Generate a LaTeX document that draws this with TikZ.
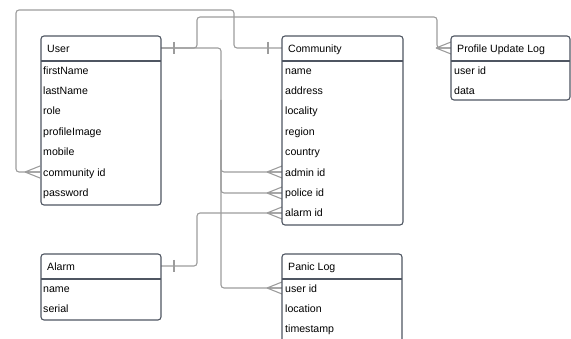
\documentclass[tikz,border=0pt]{standalone}
\usepackage{fontspec}
\setmainfont{Liberation Sans}
\usetikzlibrary{calc}
\definecolor{boxc}{HTML}{4F5662}
\definecolor{linec}{HTML}{9C9C9C}
\tikzset{
  ent/.style={draw=boxc, line width=1.1pt, rounded corners=3pt, fill=white},
  sep/.style={draw=boxc, line width=1.1pt},
  hdr/.style={anchor=west, inner sep=0pt, text height=7.8pt, text depth=2.4pt, yshift=-1pt, font=\fontsize{10.6}{12}\selectfont},
  row/.style={anchor=west, inner sep=0pt, text height=7.8pt, text depth=2.4pt, yshift=-1pt, font=\fontsize{10.6}{12}\selectfont},
  conn/.style={draw=linec, line width=1.1pt, rounded corners=3pt},
  endmark/.style={draw=linec, line width=1.1pt}
}
\newcommand{\crowfoot}[1]{\draw[endmark] ($#1+(-15,0)$) -- #1 ($#1+(-15,0)$) -- ($#1+(0,-6)$) ($#1+(-15,0)$) -- ($#1+(0,6)$);}
\newcommand{\onetick}[1]{\draw[endmark] ($#1+(0,-6)$) -- ($#1+(0,6)$);}
\begin{document}
\begin{tikzpicture}[x=1pt,y=-1pt]
\useasboundingbox (0,0) rectangle (571,339);
% connectors
\coordinate (uh) at (161,48);
\coordinate (ch) at (282,48);
\coordinate (ph) at (451,48);
\coordinate (ah) at (161,266);
\coordinate (ucid) at (40,172);
\coordinate (cadm) at (282,172);
\coordinate (cpol) at (282,193);
\coordinate (calm) at (282,213);
\coordinate (puid) at (282,288);
\draw[conn] (uh) -- (197,48) -- (197,17) -- (437,17) -- (437,48) -- (ph);
\draw[conn] (uh) -- (221,48) -- (221,288) -- (puid);
\draw[conn] (221,100) -- (221,172) -- (cadm);
\draw[conn] (221,150) -- (221,193) -- (cpol);
\draw[conn] (ch) -- (234,48) -- (234,10) -- (16,10) -- (16,172) -- (ucid);
\draw[conn] (ah) -- (197,266) -- (197,213) -- (calm);
\onetick{(174,48)}
\onetick{(268,48)}
\onetick{(174,266)}
\crowfoot{(ph)}
\crowfoot{(ucid)}
\crowfoot{(cadm)}
\crowfoot{(cpol)}
\crowfoot{(calm)}
\crowfoot{(puid)}
% User
\path[ent] (41,36) rectangle (161,205);
\draw[sep] (41,61) -- (161,61);
\node[hdr] (user) at (47,48.5) {User};
\node[row] (u1) at (43,71) {firstName};
\node[row] (u2) at (43,91) {lastName};
\node[row] (u3) at (43,111) {role};
\node[row] (u4) at (43,131.5) {profileImage};
\node[row] (u5) at (43,152) {mobile};
\node[row] (u6) at (43,172.5) {community id};
\node[row] (u7) at (43,193) {password};
% Community
\path[ent] (282,36) rectangle (403,225);
\draw[sep] (282,61) -- (403,61);
\node[hdr] (comm) at (288,48.5) {Community};
\node[row] (c1) at (285,71) {name};
\node[row] (c2) at (285,91) {address};
\node[row] (c3) at (285,111) {locality};
\node[row] (c4) at (285,131.5) {region};
\node[row] (c5) at (285,152) {country};
\node[row] (c6) at (285,172.5) {admin id};
\node[row] (c7) at (285,193) {police id};
\node[row] (c8) at (285,213) {alarm id};
% Profile Update Log
\path[ent] (451,36) rectangle (570,100);
\draw[sep] (451,61) -- (570,61);
\node[hdr] (prof) at (457,48.5) {Profile Update Log};
\node[row] (p1) at (454,71) {user id};
\node[row] (p2) at (454,91) {data};
% Alarm
\path[ent] (41,254) rectangle (161,320);
\draw[sep] (41,279) -- (161,279);
\node[hdr] (alarm) at (47,266.5) {Alarm};
\node[row] (a1) at (43,288.5) {name};
\node[row] (a2) at (43,309) {serial};
% Panic Log
\path[ent] (282,345) -- (282,254) -- (402,254) -- (402,345);
\draw[sep] (282,279) -- (402,279);
\node[hdr] (panic) at (288,266.5) {Panic Log};
\node[row] (l1) at (285,288.5) {user id};
\node[row] (l2) at (285,308.5) {location};
\node[row] (l3) at (285,329) {timestamp};
\end{tikzpicture}
\end{document}
